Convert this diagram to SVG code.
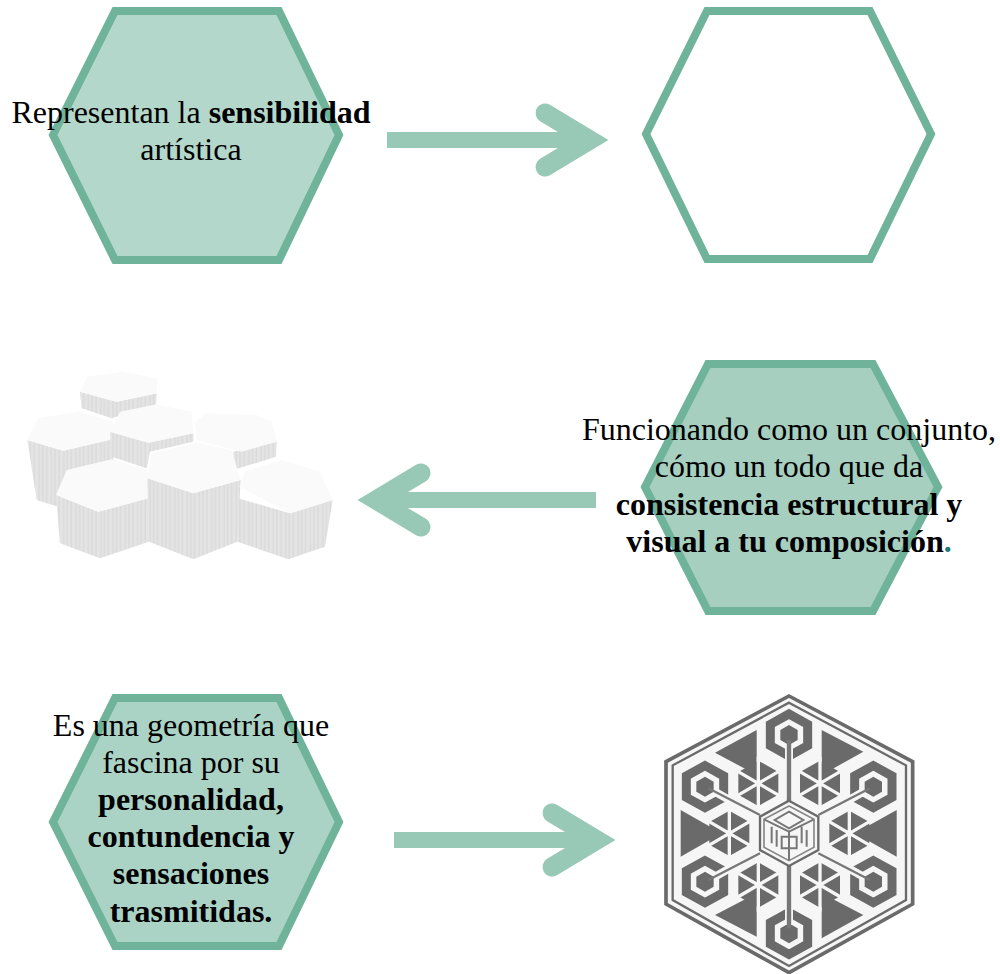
<svg xmlns="http://www.w3.org/2000/svg" xmlns:xlink="http://www.w3.org/1999/xlink" width="1000" height="974" viewBox="0 0 1000 974">
<style>
.hex{stroke:#6fb39b;stroke-width:8;stroke-linejoin:miter}
.t{font-family:"Liberation Serif","Times New Roman",serif;font-size:32px;fill:#000;text-anchor:middle}
.b{font-weight:bold}
.arrow-shaft{fill:none;stroke:#98c8b6;stroke-width:16}
.arrow-head{fill:none;stroke:#98c8b6;stroke-width:19;stroke-linecap:round;stroke-linejoin:miter;stroke-miterlimit:10}
.top{fill:#fafafa}
.side{fill:url(#stripes)}
.d{fill:#6a6a6a}
.ring{fill:none;stroke:#6a6a6a;stroke-width:27;stroke-linejoin:miter}
.wl{stroke:#f6f6f6;fill:none}
.gl{stroke:#777;fill:none}
</style>
<defs>
<pattern id="stripes" patternUnits="userSpaceOnUse" width="37" height="40">
<rect width="37" height="40" fill="#e4e4e4"/>
<path d="M6 0V40M17 0V40M29 0V40" stroke="#d6d6d6" stroke-width="3"/>
</pattern>
<filter id="soft" x="-5%" y="-5%" width="110%" height="110%"><feGaussianBlur stdDeviation="1.2"/></filter>
<filter id="soft2" x="-5%" y="-5%" width="110%" height="110%"><feGaussianBlur stdDeviation="1.6"/></filter>
<g id="cluster">
<polygon class="d" points="0,-68 60,-34 60,34 0,68 -60,34 -60,-34"/>
<path class="wl" stroke-width="10" d="M0,-80V80M-72,-42L72,42M-72,42L72,-42"/>
</g>
<g id="ringmark">
<polygon class="ring" points="0,-63 56,-32 56,32 0,63 -56,32 -56,-32"/>
<polygon class="d" points="0,-30 26,-15 26,15 0,30 -26,15 -26,-15"/>
</g>
</defs>
<rect width="1000" height="974" fill="#fff"/>
<g id="connectors">
<g id="arrow-1"><path class="arrow-shaft" d="M387 140H580"/><path class="arrow-head" d="M545 113L590 140L545 167"/></g>
<g id="arrow-2"><path class="arrow-shaft" d="M596 500H385"/><path class="arrow-head" d="M421 473L376 500L421 527"/></g>
<g id="arrow-3"><path class="arrow-shaft" d="M394 840H590"/><path class="arrow-head" d="M552 813L597 840L552 867"/></g>
</g>
<g id="node-1">
<polygon class="hex" fill="#b3d7ca" points="115,11 279,11 339,135 279,260 115,260 53,135"/>
<text class="t" x="191" y="123">Representan la <tspan class="b">sensibilidad</tspan></text>
<text class="t" x="191" y="160">artística</text>
</g>
<g id="node-2">
<polygon class="hex" fill="#fff" points="707,11 870,11 931,134 870,259 707,259 646,134"/>
</g>
<g id="node-3">
<polygon class="hex" fill="#a6cfc0" points="708,364 873,364 938,487 873,611 708,611 645,487"/>
<text class="t" x="789" y="440">Funcionando como un conjunto,</text>
<text class="t" x="789" y="477">cómo un todo que da</text>
<text class="t b" x="789" y="515">consistencia estructural y</text>
<text class="t b" x="789" y="552">visual a tu composición<tspan fill="#1f7a7a">.</tspan></text>
</g>
<g id="node-4">
<polygon class="hex" fill="#abd3c5" points="115,698 279,698 339,822 279,946 115,946 53,822"/>
<text class="t" x="191" y="736">Es una geometría que</text>
<text class="t" x="191" y="773">fascina por su</text>
<text class="t b" x="191" y="810">personalidad,</text>
<text class="t b" x="191" y="847">contundencia y</text>
<text class="t b" x="191" y="884">sensaciones</text>
<text class="t b" x="191" y="922">trasmitidas.</text>
</g>
<g id="image-hexagons" transform="translate(0,350) scale(0.33333)">
<g filter="url(#soft2)">
<polygon class="side" points="240,125 350,155 470,130 468,165 335,205 245,175"/>
<polygon class="top" points="240,125 262,80 365,65 472,85 470,130 350,155"/>
<polygon class="side" points="700,305 830,275 828,320 700,360"/>
<polygon class="top" points="585,215 620,190 770,195 815,215 830,275 725,305 590,270"/>
<polygon class="side" points="82,270 190,302 340,265 340,335 200,370 175,470 110,450"/>
<polygon class="top" points="82,270 115,205 235,185 340,215 330,270 190,302"/>
<polygon class="side" points="330,245 445,278 580,250 580,275 450,305 440,355 335,320"/>
<polygon class="top" points="330,245 360,185 470,163 575,185 580,250 445,278"/>
<polygon class="side" points="168,435 295,485 445,445 447,575 300,625 180,580"/>
<polygon class="top" points="168,435 200,360 335,328 445,360 445,445 295,485"/>
<polygon class="side" points="442,385 580,430 722,390 712,575 580,628 447,575"/>
<polygon class="top" points="442,385 455,310 590,278 695,300 722,390 580,430"/>
<polygon class="side" points="715,445 870,490 998,450 975,590 865,628 712,575"/>
<polygon class="top" points="718,410 735,365 845,330 960,365 998,450 870,490"/>
</g>
</g>
<g id="image-emblem" transform="translate(640,680) scale(0.33333)">
<g filter="url(#soft)">
<polygon fill="#f6f6f6" stroke="#6a6a6a" stroke-width="11" points="447,48 818,245 818,672 447,878 78,672 78,245"/>
<polygon fill="none" stroke="#6a6a6a" stroke-width="7" points="447,68 798,256 798,660 447,858 98,660 98,256"/>
<polygon class="d" points="350,150 225,218 350,285"/>
<polygon class="d" points="545,150 670,215 545,285"/>
<polygon class="d" points="122,390 122,530 245,460"/>
<polygon class="d" points="770,390 770,530 645,460"/>
<polygon class="d" points="350,640 225,705 350,770"/>
<polygon class="d" points="545,640 670,705 545,775"/>
<use href="#cluster" x="355" y="310"/>
<use href="#cluster" x="540" y="310"/>
<use href="#cluster" x="268" y="460"/>
<use href="#cluster" x="628" y="460"/>
<use href="#cluster" x="355" y="615"/>
<use href="#cluster" x="540" y="615"/>
<use href="#ringmark" x="447" y="165"/>
<use href="#ringmark" x="447" y="760"/>
<use href="#ringmark" x="195" y="320"/>
<use href="#ringmark" x="700" y="320"/>
<use href="#ringmark" x="195" y="605"/>
<use href="#ringmark" x="700" y="605"/>
<path class="wl" stroke-width="24" d="M447,195V735M225,335L670,590M225,590L670,335"/>
<path class="gl" stroke-width="13" d="M447,180V365M447,555V745"/>
<path class="gl" stroke-width="7" d="M205,325L360,405M690,325L535,405M205,600L360,520M690,600L535,520"/>
<polygon fill="#f6f6f6" stroke="#6a6a6a" stroke-width="7" points="447,362 535,410 535,510 447,558 360,510 360,410"/>
<polygon fill="none" stroke="#888" stroke-width="5" points="447,378 522,418 522,502 447,542 372,502 372,418"/>
<path class="gl" stroke-width="6" d="M447,455L372,418M447,455L522,418M447,455V542M447,395L490,420L447,445L404,420ZM395,440V490M410,450V500M500,450V500M485,440V490M425,470H470V505H425Z"/>
</g>
</g>
</svg>
